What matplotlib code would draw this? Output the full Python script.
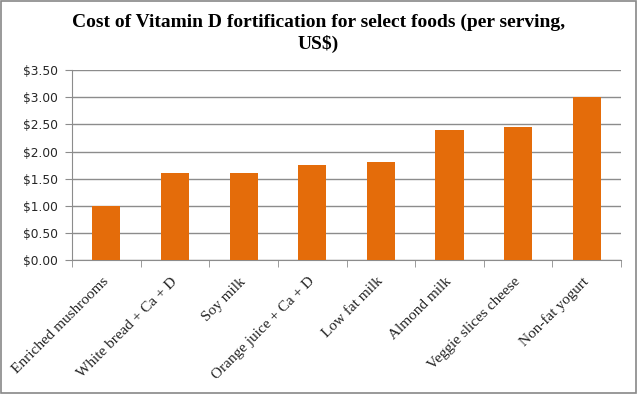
import matplotlib
matplotlib.use("Agg")
import matplotlib.pyplot as plt
from matplotlib.ticker import FixedLocator
from matplotlib.patches import Rectangle
import numpy as np

categories = ["Enriched mushrooms", "White bread + Ca + D", "Soy milk",
              "Orange juice + Ca + D", "Low fat milk", "Almond milk",
              "Veggie slices cheese", "Non-fat yogurt"]
values = [1.00, 1.60, 1.60, 1.75, 1.80, 2.40, 2.45, 3.00]
yticks = [0.0, 0.5, 1.0, 1.5, 2.0, 2.5, 3.0, 3.5]
ytick_labels = ["$0.00", "$0.50", "$1.00", "$1.50", "$2.00", "$2.50", "$3.00", "$3.50"]
title = "Cost of Vitamin D fortification for select foods (per serving,\nUS$)"

fig = plt.figure(figsize=(6.37, 3.94), dpi=100)
fig.patches.append(Rectangle((0.0015, 0.0025), 0.997, 0.995, transform=fig.transFigure,
                             fill=False, edgecolor="#888888", linewidth=1.2))
ax = fig.add_axes([0.113, 0.34, 0.862, 0.482])

x = np.arange(len(categories))
ax.bar(x, values, width=0.41, color="#E46C0A", zorder=3)

ax.set_xlim(-0.5, len(categories) - 0.5)
ax.set_ylim(0, 3.5)
ax.set_yticks(yticks)
ax.set_yticklabels(ytick_labels, fontsize=8.8, family="DejaVu Sans", color="#262626")
ax.yaxis.grid(True, color="#8c8c8c", linewidth=1.0, zorder=0)
ax.tick_params(axis="y", length=5, color="#8c8c8c", pad=5)

ax.set_xticks(x)
ax.set_xticklabels(categories, rotation=45, ha="right", va="center", rotation_mode="anchor",
                   fontsize=11, family="Liberation Serif", color="#222222")
ax.tick_params(axis="x", which="major", length=0, pad=14)
ax.xaxis.set_minor_locator(FixedLocator(np.arange(-0.5, len(categories), 1.0)))
ax.tick_params(axis="x", which="minor", length=5, color="#8c8c8c")

for s in ["top", "right"]:
    ax.spines[s].set_visible(False)
ax.spines["left"].set_color("#8c8c8c")
ax.spines["bottom"].set_color("#8c8c8c")

fig.text(0.5, 0.965, title, ha="center", va="top", fontsize=14, fontweight="bold",
         family="Liberation Serif", linespacing=1.3)

fig.savefig("out.png", dpi=100)
